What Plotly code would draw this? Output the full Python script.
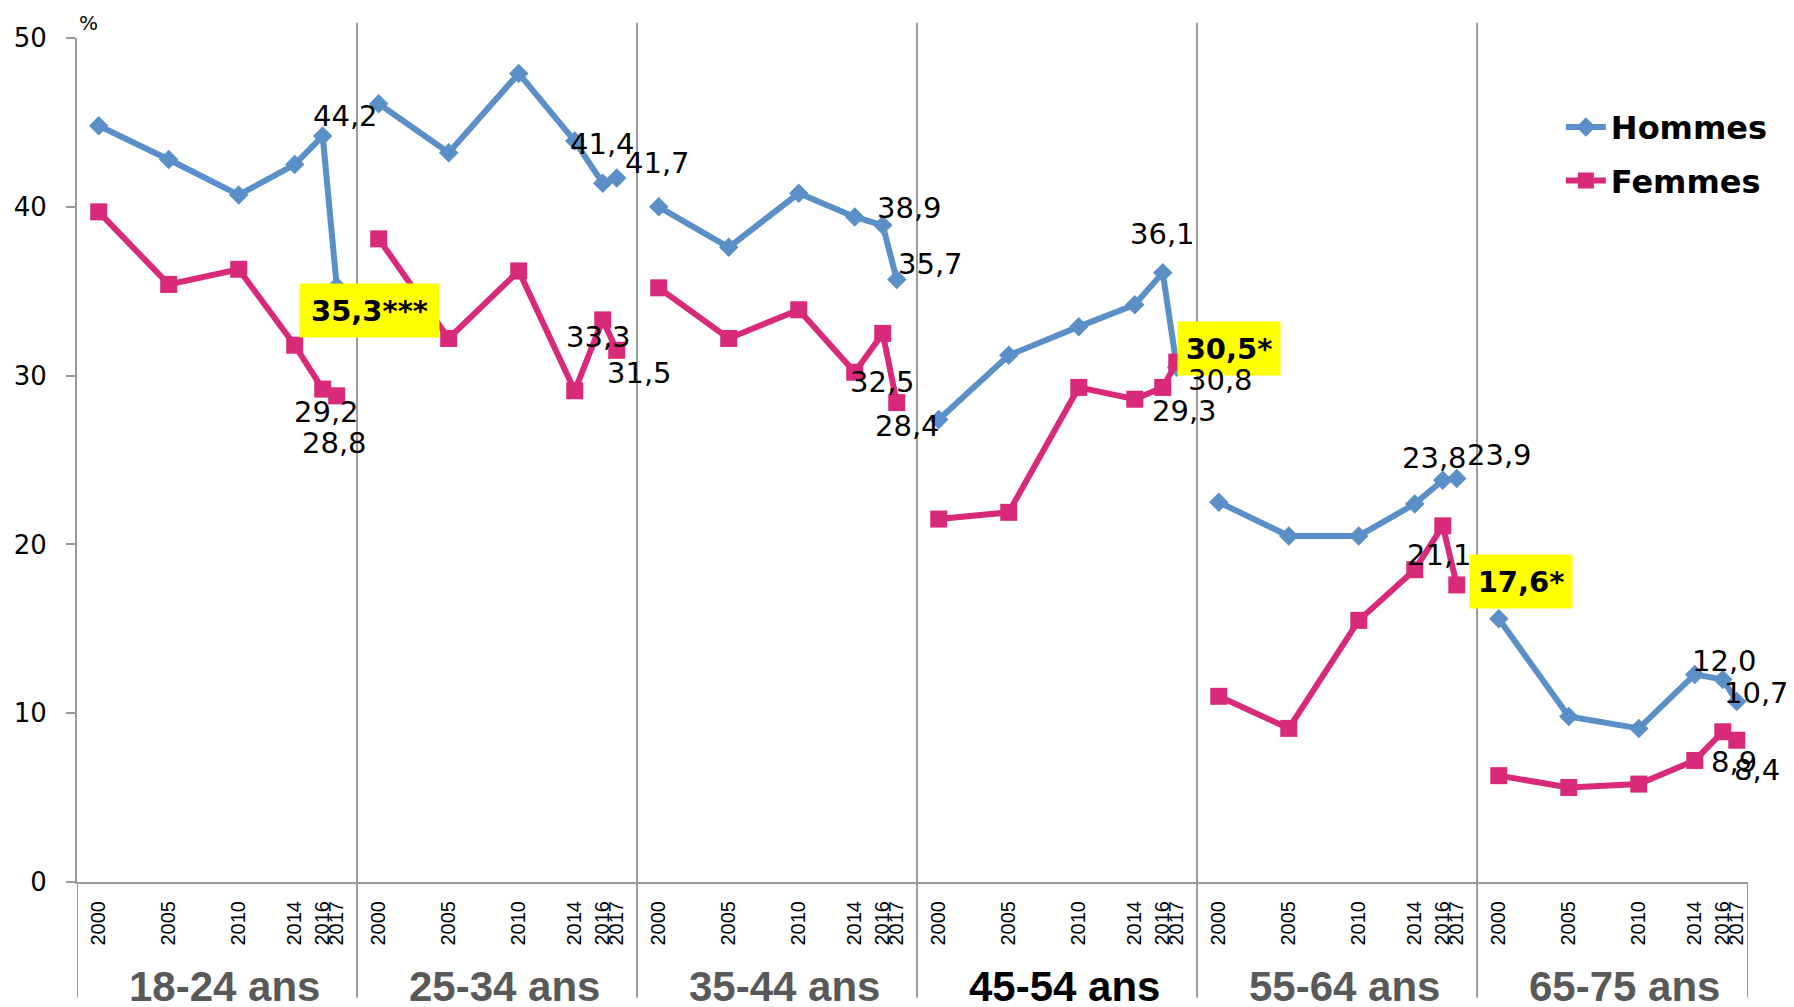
import plotly.graph_objects as go

# ---------------- data ----------------
groups = ["18-24 ans", "25-34 ans", "35-44 ans", "45-54 ans", "55-64 ans", "65-75 ans"]
years = [2000, 2005, 2010, 2014, 2016, 2017]

hommes_18_24 = [44.8, 42.8, 40.7, 42.5, 44.2, 35.3]
hommes_25_34 = [46.1, 43.2, 47.9, 43.9, 41.4, 41.7]
hommes_35_44 = [40.0, 37.6, 40.8, 39.4, 38.9, 35.7]
hommes_45_54 = [27.4, 31.2, 32.9, 34.2, 36.1, 30.5]
hommes_55_64 = [22.5, 20.5, 20.5, 22.4, 23.8, 23.9]
hommes_65_75 = [15.6, 9.8, 9.1, 12.3, 12.0, 10.7]

femmes_18_24 = [39.7, 35.4, 36.3, 31.8, 29.2, 28.8]
femmes_25_34 = [38.1, 32.2, 36.2, 29.1, 33.3, 31.5]
femmes_35_44 = [35.2, 32.2, 33.9, 30.2, 32.5, 28.4]
femmes_45_54 = [21.5, 21.9, 29.3, 28.6, 29.3, 30.8]
femmes_55_64 = [11.0, 9.1, 15.5, 18.5, 21.1, 17.6]
femmes_65_75 = [6.3, 5.6, 5.8, 7.2, 8.9, 8.4]

# significance markers on the 2017 value (highlighted in yellow)
hommes_2017_stars = ["***", "", "", "*", "", ""]
femmes_2017_stars = ["", "", "", "", "*", ""]

hommes = [hommes_18_24, hommes_25_34, hommes_35_44, hommes_45_54, hommes_55_64, hommes_65_75]
femmes = [femmes_18_24, femmes_25_34, femmes_35_44, femmes_45_54, femmes_55_64, femmes_65_75]

# ---------------- style ----------------
BLUE = "#5B8FC8"
PINK = "#D82A79"
GREY = "#9A9A9A"
LABEL_FONT = "DejaVu Sans"
GROUP_SPAN = 20          # years allotted to each age group on the shared axis
PAD_LEFT, PAD_RIGHT = 1.55, 0.8

# label offsets (px, right / down) for the 2016 and 2017 labels of each group
h_offsets = [[(23, -20), (33, 24)], [(0, -39), (41, -15)], [(27, -17), (34, -15)],
             [(0, -39), (52, -19)], [(-8, -22), (43, -24)], [(2, -18), (20, -8)]]
f_offsets = [[(4, 23), (-2, 47)], [(-4, 17), (23, 23)], [(0, 49), (11, 23)],
             [(22, 24), (44, 18)], [(-3, 29), (64, -3)], [(11, 30), (20, 30)]]
yellow_box = {"***": 139, "*": 102}


def xpos(gi, year):
    return gi * GROUP_SPAN + (year - years[0])


def fmt(v):
    return f"{v:.1f}".replace(".", ",")


fig = go.Figure()

for name, series, color, symbol, msize in [("Hommes", hommes, BLUE, "diamond", 15),
                                           ("Femmes", femmes, PINK, "square", 17)]:
    xs, ys = [], []
    for gi, vals in enumerate(series):
        for yr, v in zip(years, vals):
            xs.append(xpos(gi, yr))
            ys.append(v)
        xs.append(None)
        ys.append(None)
    fig.add_trace(go.Scatter(
        x=xs, y=ys, name=name, mode="lines+markers", connectgaps=False,
        legendgroup=name,
        line=dict(color=color, width=6),
        marker=dict(symbol=symbol, size=msize, color=color),
        hoverinfo="skip"))

annotations = []
for series, stars, offsets in [(hommes, hommes_2017_stars, h_offsets),
                               (femmes, femmes_2017_stars, f_offsets)]:
    for gi, vals in enumerate(series):
        for k, yr in enumerate(years[-2:]):
            v = vals[len(years) - 2 + k]
            dx, dy = offsets[gi][k]
            star = stars[gi] if k == 1 else ""
            a = dict(x=xpos(gi, yr), y=v, xref="x", yref="y", showarrow=False,
                     xshift=dx, yshift=-dy, text=fmt(v) + star,
                     font=dict(family=LABEL_FONT, size=29, color="black"))
            if star:
                a.update(text="<b>" + fmt(v) + star + "</b>", bgcolor="#FFFF00",
                         borderpad=0, width=yellow_box[star], height=53,
                         font=dict(family=LABEL_FONT, size=29, color="black"))
            annotations.append(a)

# group labels under the axis
for gi, g in enumerate(groups):
    annotations.append(dict(
        x=gi * GROUP_SPAN + 9.0, y=-0.124, xref="x", yref="paper", showarrow=False,
        text="<b>" + g + "</b>", yanchor="middle",
        font=dict(family="Liberation Sans", size=42,
                  color="black" if g == "45-54 ans" else "#595959")))

annotations.append(dict(x=0.0066, y=1.018, xref="paper", yref="paper", text="%",
                        xanchor="center", yanchor="middle",
                        showarrow=False, font=dict(family=LABEL_FONT, size=20, color="black")))

# separators between age groups
x_min = -PAD_LEFT
x_max = (len(groups) - 1) * GROUP_SPAN + (years[-1] - years[0]) + PAD_RIGHT
shapes = []
for gi in range(len(groups) + 1):
    xv = min(gi * GROUP_SPAN - PAD_LEFT, x_max)
    top = 1.018 if 0 < gi < len(groups) else 0
    shapes.append(dict(type="line", xref="x", yref="paper", x0=xv, x1=xv, y0=-0.137, y1=top,
                       line=dict(color=GREY, width=2), layer="below"))

tickvals = [xpos(gi, yr) for gi in range(len(groups)) for yr in years]
ticktext = [str(yr) for gi in range(len(groups)) for yr in years]

# the page body adds an 8px offset, so the figure is 8px smaller than the window
fig.update_layout(
    width=1786, height=999,
    margin=dict(l=69, r=46, t=30, b=125),
    plot_bgcolor="white", paper_bgcolor="white",
    showlegend=True,
    legend=dict(x=0.888, y=0.927, xanchor="left", yanchor="top",
                font=dict(family=LABEL_FONT, size=32, color="black", weight="bold"),
                bgcolor="rgba(0,0,0,0)", tracegroupgap=9, itemwidth=40),
    annotations=annotations, shapes=shapes,
    xaxis=dict(range=[x_min, x_max], tickvals=tickvals, ticktext=ticktext,
               tickangle=-90, ticks="", showgrid=False, zeroline=False,
               showline=True, linecolor=GREY, linewidth=2, automargin=False,
               ticklabelstandoff=9,
               tickfont=dict(family="Liberation Sans", size=20, color="black")),
    yaxis=dict(range=[0, 50], dtick=10, showgrid=False, zeroline=False,
               showline=True, linecolor=GREY, linewidth=2, automargin=False,
               ticks="outside", ticklen=9, tickwidth=2, tickcolor=GREY,
               ticklabelstandoff=14,
               tickfont=dict(family=LABEL_FONT, size=26, color="black")),
)

fig.write_html("out.html")
